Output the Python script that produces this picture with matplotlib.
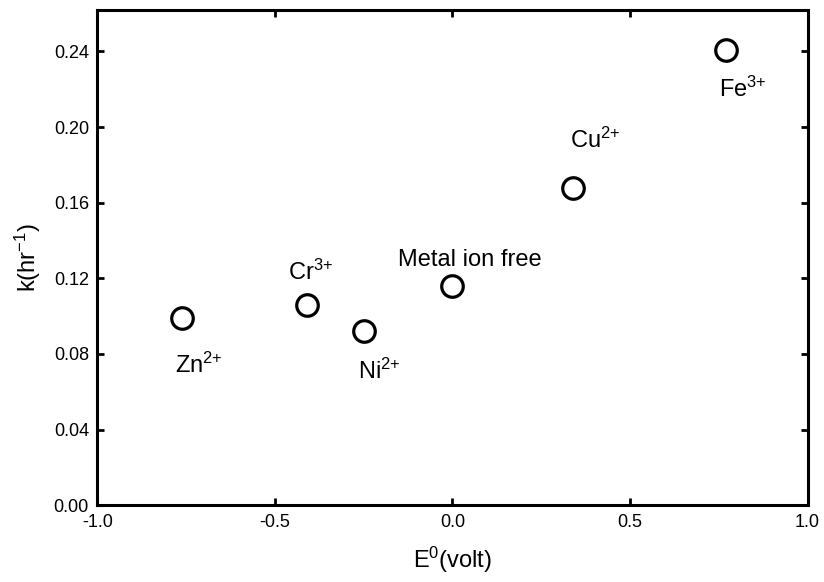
import matplotlib
matplotlib.use("Agg")
import matplotlib.pyplot as plt

plt.rcParams["font.family"] = ["Liberation Sans", "DejaVu Sans"]
plt.rcParams["mathtext.fontset"] = "custom"
plt.rcParams["mathtext.rm"] = "Liberation Sans"
plt.rcParams["mathtext.default"] = "regular"

# Standard potential E0 (volt) vs rate constant k (1/hr)
ions = ["Zn$^{2{+}}$", "Cr$^{3{+}}$", "Ni$^{2{+}}$", "Metal ion free", "Cu$^{2{+}}$", "Fe$^{3{+}}$"]
e0 = [-0.76, -0.41, -0.25, 0.0, 0.34, 0.77]
k = [0.099, 0.106, 0.092, 0.116, 0.168, 0.241]

# label anchor points (data coords, left/baseline)
label_x = [-0.782, -0.464, -0.265, -0.154, 0.330, 0.751]
label_y = [0.0698, 0.119, 0.067, 0.1265, 0.189, 0.216]

x_ticks = [-1.0, -0.5, 0.0, 0.5, 1.0]
x_tick_labels = ["-1.0", "-0.5", "0.0", "0.5", "1.0"]
y_ticks = [0.00, 0.04, 0.08, 0.12, 0.16, 0.20, 0.24]
y_tick_labels = ["0.00", "0.04", "0.08", "0.12", "0.16", "0.20", "0.24"]

fig = plt.figure(figsize=(8.24, 5.82), dpi=100)
ax = fig.add_axes([0.118, 0.132, 0.862, 0.851])

ax.plot(e0, k, linestyle="none", marker="o", markersize=15.5,
        markerfacecolor="white", markeredgecolor="black", markeredgewidth=2.3)

for name, lx, ly in zip(ions, label_x, label_y):
    ax.text(lx, ly, name, fontsize=17, ha="left", va="baseline")

ax.set_xlim(-1.0, 1.0)
ax.set_ylim(0.0, 0.262)
ax.set_xticks(x_ticks)
ax.set_xticklabels(x_tick_labels)
ax.set_yticks(y_ticks)
ax.set_yticklabels(y_tick_labels)

ax.tick_params(direction="in", length=5, width=2, labelsize=13,
               top=True, right=True, pad=6)
for sp in ax.spines.values():
    sp.set_linewidth(2.2)

ax.set_xlabel("E$^0$(volt)", fontsize=17, labelpad=10)
ax.set_ylabel("k(hr$^{-1}$)", fontsize=17, labelpad=8)

fig.savefig("out.png", dpi=100)
